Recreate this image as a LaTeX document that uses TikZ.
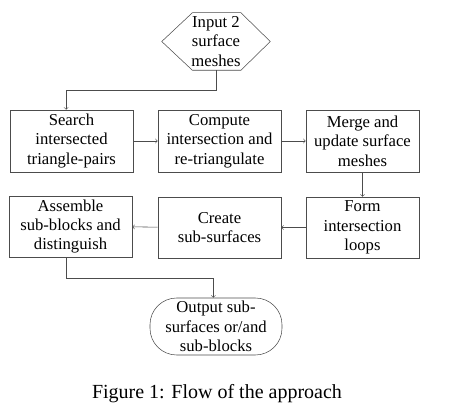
\documentclass[tikz,border=0pt]{standalone}
\usepackage{fontspec}
\setmainfont{Liberation Serif}
\usetikzlibrary{positioning}
\begin{document}
\begin{tikzpicture}[
x=0.75pt, y=-0.75pt,
stepbox/.style={rectangle, draw=black!70, thin, align=center, inner sep=1pt, font=\fontsize{12.5}{14.6}\selectfont},
flow/.style={->, draw=black!70, thin},
]
\useasboundingbox (0,0) rectangle (455,414);
%Nodes
\node[align=center, inner sep=0pt, minimum width=81pt, minimum height=42.75pt, font=\fontsize{12.5}{14.6}\selectfont] (in) at (216,41.5) {Input 2\\surface\\meshes};
\node[stepbox, minimum width=92.25pt, minimum height=46.5pt] (search) at (71.5,141) {Search\\intersected\\triangle-pairs};
\node[stepbox, minimum width=92.25pt, minimum height=46.5pt] (compute) at (219.5,141) {Compute\\intersection and\\re-triangulate};
\node[stepbox, minimum width=84.75pt, minimum height=46.5pt] (merge) at (362.5,141) {Merge and\\update surface\\meshes};
\node[stepbox, minimum width=92.25pt, minimum height=45.75pt] (assemble) at (70.5,226.5) {Assemble\\sub-blocks and\\distinguish};
\node[stepbox, minimum width=92.25pt, minimum height=45.75pt] (create) at (219.5,227.5) {Create\\sub-surfaces};
\node[stepbox, minimum width=84.75pt, minimum height=45.75pt] (form) at (362.5,227.5) {Form\\intersection\\loops};
\node[stepbox, rounded corners=20pt, minimum width=99pt, minimum height=42.75pt] (out) at (216,326.5) {Output sub-\\surfaces or/and\\sub-blocks};
\node[font=\fontsize{15}{18}\selectfont] (caption) at (217,394) {Figure 1: Flow of the approach};

%Hexagon outline
\draw[black!70, thin] (in.west) -- ([xshift=23pt]in.north west) -- ([xshift=-22pt]in.north east) -- (in.east) -- ([xshift=-22pt]in.south east) -- ([xshift=23pt]in.south west) -- cycle;

%Lines
\draw[flow] (in.south) -- ++(0,20) -| ([xshift=-4pt]search.north);
\draw[flow] (search) -- (compute);
\draw[flow] (compute) -- (merge);
\draw[flow] (merge) -- (form);
\draw[flow] (form) -- (create);
\draw[flow] (create) -- (assemble);
\draw[flow] ([xshift=-3pt]assemble.south) -- ++(0,21) -| ([xshift=-2pt]out.north);

\end{tikzpicture}
\end{document}
